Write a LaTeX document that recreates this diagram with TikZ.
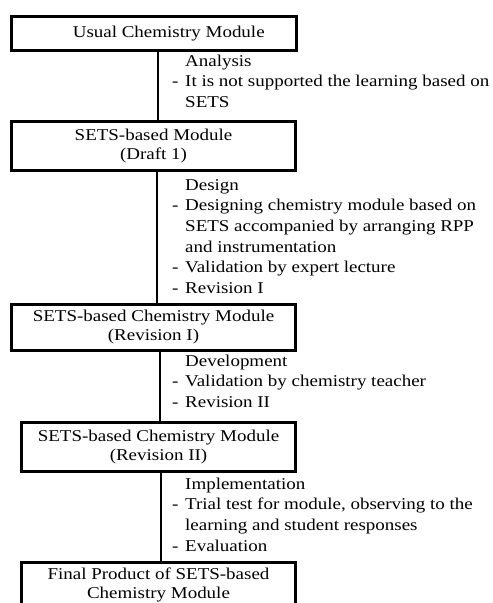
\documentclass[tikz,border=0pt]{standalone}
\usepackage{fontspec}
\setmainfont{Liberation Serif}[FakeStretch=1.15]
\usepackage{array}
\begin{document}
\begin{tikzpicture}[x=1pt,y=-1pt,
  box/.style={draw, line width=2.8pt, inner sep=0pt, align=center,
    font=\fontsize{16.5}{19}\selectfont},
  desc/.style={inner sep=0pt, anchor=base west,
    font=\fontsize{16.5}{20.7}\selectfont},
  conn/.style={line width=2pt}]
\clip (0,0) rectangle (493,603);
\fill[white] (0,0) rectangle (493,603);
\node[box, minimum width=284.7pt, minimum height=33.9pt] (b1) at (153.75,33.35) {\hspace*{30pt}Usual Chemistry Module};
\node[box, minimum width=284.2pt, minimum height=48.9pt] (b2) at (153.5,145.85) {SETS-based Module\\(Draft 1)};
\node[box, minimum width=284.2pt, minimum height=46.2pt] (b3) at (153.5,327.5) {SETS-based Chemistry Module\\(Revision I)};
\node[box, minimum width=274.2pt, minimum height=49.2pt] (b4) at (158.5,447) {SETS-based Chemistry Module\\(Revision II)};
\node[box, minimum width=274.2pt, minimum height=44pt] (b5) at (158.5,584.5) {Final Product of SETS-based\\Chemistry Module};
\draw[conn] (b1.south -| 158,0) -- (b2.north -| 158,0);
\draw[conn] (b2.south -| 157,0) -- (b3.north -| 157,0);
\draw[conn] (b3.south -| 160,0) -- (b4.north -| 160,0);
\draw[conn] (b4.south -| 161,0) -- (b5.north -| 161,0);
\node[desc] (d1) at (172,66) {\begin{tabular}[t]{@{}p{13pt}@{}l@{}}
 & Analysis\\
- & It is not supported the learning based on\\
 & SETS\end{tabular}};
\node[desc] (d2) at (172,190) {\begin{tabular}[t]{@{}p{13pt}@{}l@{}}
 & Design\\
- & Designing chemistry module based on\\
 & SETS accompanied by arranging RPP\\
 & and instrumentation\\
- & Validation by expert lecture\\
- & Revision I\end{tabular}};
\node[desc] (d3) at (172,366) {\begin{tabular}[t]{@{}p{13pt}@{}l@{}}
 & Development\\
- & Validation by chemistry teacher\\
- & Revision II\end{tabular}};
\node[desc] (d4) at (172,489) {\begin{tabular}[t]{@{}p{13pt}@{}l@{}}
 & Implementation\\
- & Trial test for module, observing to the\\
 & learning and student responses\\
- & Evaluation\end{tabular}};
\end{tikzpicture}
\end{document}
